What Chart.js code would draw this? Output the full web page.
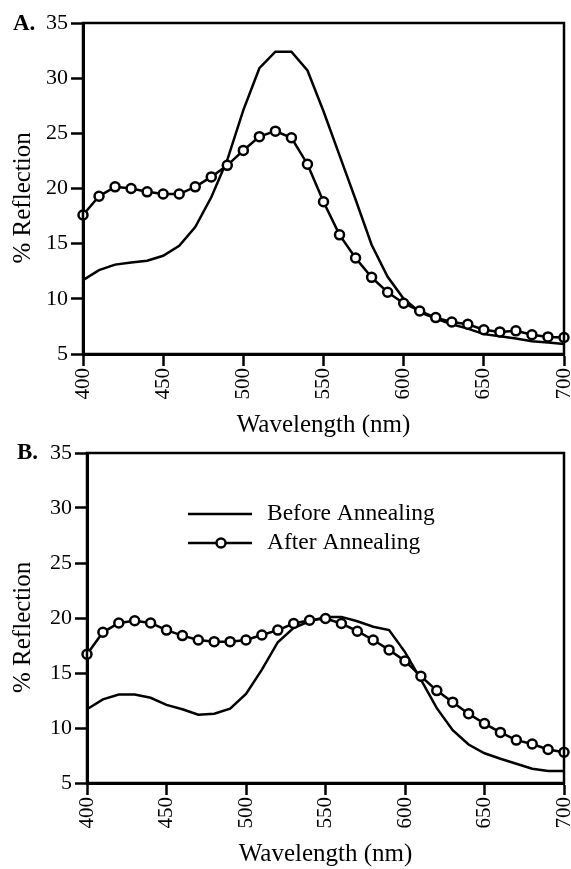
<!DOCTYPE html>
<html>
<head>
<meta charset="utf-8">
<script src="https://cdn.jsdelivr.net/npm/chart.js@4.4.1/dist/chart.umd.min.js"></script>
<style>
    body { margin: 0; background: #fff; width: 571px; height: 869px; overflow: hidden; position: relative; }
    canvas { position: absolute; left: 0; }
    #chart-a { top: 0; }
    #chart-b { top: 440px; }
</style>
</head>
<body>
<canvas id="chart-a" width="571" height="440"></canvas>
<canvas id="chart-b" width="571" height="429"></canvas>
<script>
//#region Datos
var wavelengths = [400, 410, 420, 430, 440, 450, 460, 470, 480, 490, 500, 510, 520, 530, 540, 550,
    560, 570, 580, 590, 600, 610, 620, 630, 640, 650, 660, 670, 680, 690, 700];

// Panel A
var beforeA = [11.7, 12.6, 13.1, 13.3, 13.45, 13.9, 14.8, 16.5, 19.2, 22.6, 27.1, 30.9, 32.4, 32.4, 30.7, 27.0,
    23.0, 19.0, 14.9, 12.0, 10.0, 8.8, 8.2, 7.7, 7.3, 6.8, 6.6, 6.4, 6.15, 6.05, 5.9];
var afterA = [17.6, 19.3, 20.15, 20.0, 19.7, 19.5, 19.5, 20.15, 21.05, 22.1, 23.45, 24.7, 25.2, 24.6, 22.2, 18.8,
    15.8, 13.7, 11.95, 10.6, 9.6, 8.9, 8.3, 7.9, 7.7, 7.2, 7.0, 7.1, 6.75, 6.55, 6.5];

// Panel B
var beforeB = [11.7, 12.6, 13.05, 13.05, 12.75, 12.1, 11.7, 11.2, 11.3, 11.75, 13.1, 15.3, 17.8, 19.1, 19.7, 20.1,
    20.1, 19.7, 19.2, 18.9, 16.9, 14.4, 11.8, 9.8, 8.5, 7.7, 7.2, 6.75, 6.3, 6.1, 6.1];
var afterB = [16.7, 18.7, 19.55, 19.75, 19.55, 18.9, 18.4, 18.0, 17.85, 17.85, 18.0, 18.45, 18.9, 19.5, 19.8, 19.95,
    19.5, 18.8, 18.0, 17.1, 16.1, 14.7, 13.4, 12.35, 11.3, 10.4, 9.6, 8.9, 8.55, 8.05, 7.8];

var xTicks = [400, 450, 500, 550, 600, 650, 700];
var yTicks = [5, 10, 15, 20, 25, 30, 35];
var seriesNames = ['Before Annealing', 'After Annealing'];
//#endregion

var serif = '"Liberation Serif", "Times New Roman", serif';

function toPoints(values) {
    return wavelengths.map(function (w, i) { return { x: w, y: values[i] }; });
}

// caja completa alrededor del area del grafico
var framePlugin = {
    id: 'frame',
    afterDatasetsDraw: function (chart) {
        var a = chart.chartArea, ctx = chart.ctx;
        ctx.save();
        ctx.strokeStyle = '#000';
        ctx.lineWidth = 2.5;
        ctx.strokeRect(a.left, a.top, a.right - a.left, a.bottom - a.top);
        ctx.restore();
    }
};

function panelLabel(text, x, y) {
    return {
        id: 'panelLabel',
        afterDraw: function (chart) {
            var ctx = chart.ctx;
            ctx.save();
            ctx.fillStyle = '#000';
            ctx.font = 'bold 23px ' + serif;
            ctx.textAlign = 'left';
            ctx.textBaseline = 'alphabetic';
            ctx.fillText(text, x, y);
            ctx.restore();
        }
    };
}

var legendPlugin = {
    id: 'customLegend',
    afterDraw: function (chart) {
        var ctx = chart.ctx;
        ctx.save();
        ctx.strokeStyle = '#000';
        ctx.fillStyle = '#000';
        ctx.lineWidth = 2.5;
        ctx.beginPath();
        ctx.moveTo(188, 74);
        ctx.lineTo(252, 74);
        ctx.stroke();
        ctx.beginPath();
        ctx.moveTo(188, 103);
        ctx.lineTo(252, 103);
        ctx.stroke();
        ctx.beginPath();
        ctx.arc(221, 103, 4.5, 0, Math.PI * 2);
        ctx.fillStyle = '#fff';
        ctx.fill();
        ctx.stroke();
        ctx.fillStyle = '#000';
        ctx.font = '23.5px ' + serif;
        ctx.textBaseline = 'alphabetic';
        ctx.fillText(seriesNames[0], 267, 80);
        ctx.fillText(seriesNames[1], 267, 109);
        ctx.restore();
    }
};

function makeChart(canvasId, before, after, opts) {
    var ctx = document.getElementById(canvasId).getContext('2d');
    return new Chart(ctx, {
        type: 'line',
        data: {
            datasets: [{
                label: seriesNames[1],
                data: toPoints(after),
                borderColor: '#000',
                borderWidth: 2.5,
                pointRadius: 4.5,
                pointBorderWidth: 2.5,
                pointBackgroundColor: '#fff',
                pointBorderColor: '#000',
                tension: 0,
                clip: false
            }, {
                label: seriesNames[0],
                data: toPoints(before),
                borderColor: '#000',
                borderWidth: 2.5,
                pointRadius: 0,
                tension: 0,
                clip: false
            }]
        },
        options: {
            responsive: false,
            animation: false,
            devicePixelRatio: 1,
            layout: { padding: opts.padding },
            plugins: { legend: { display: false }, tooltip: { enabled: false } },
            scales: {
                x: {
                    type: 'linear',
                    min: 400,
                    max: 700,
                    afterBuildTicks: function (s) { s.ticks = xTicks.map(function (v) { return { value: v }; }); },
                    afterFit: function (s) { s.height = 86; s.paddingLeft = 0; s.paddingRight = 0; },
                    border: { display: true, color: '#000', width: 3 },
                    grid: { drawOnChartArea: false, drawTicks: true, tickLength: 12, tickWidth: 2.5, tickColor: '#000' },
                    ticks: { color: '#000', font: { family: serif, size: 21 }, minRotation: 90, maxRotation: 90, padding: 2, autoSkip: false },
                    title: { display: true, text: 'Wavelength (nm)', color: '#000', font: { family: serif, size: 25, lineHeight: 1 }, padding: { top: 0, bottom: 2 } }
                },
                y: {
                    min: 5,
                    max: 35,
                    afterBuildTicks: function (s) { s.ticks = yTicks.map(function (v) { return { value: v }; }); },
                    afterFit: function (s) { s.width = opts.yWidth; s.paddingTop = 0; s.paddingBottom = 0; },
                    border: { display: true, color: '#000', width: 3 },
                    grid: { drawOnChartArea: false, drawTicks: true, tickLength: 12, tickWidth: 2.5, tickColor: '#000' },
                    ticks: { color: '#000', font: { family: serif, size: 22 }, padding: 3 },
                    title: { display: true, text: '% Reflection   ', color: '#000', font: { family: serif, size: 25, lineHeight: 1 }, padding: { top: 11, bottom: 0 } }
                }
            }
        },
        plugins: opts.plugins
    });
}

var chartA = makeChart('chart-a', beforeA, afterA, {
    padding: { top: 23, right: 6, left: 0, bottom: 0 },
    yWidth: 83,
    plugins: [framePlugin, panelLabel('A.', 13, 30)]
});

var chartB = makeChart('chart-b', beforeB, afterB, {
    padding: { top: 13, right: 4, left: 0, bottom: 0 },
    yWidth: 87,
    plugins: [framePlugin, panelLabel('B.', 17, 19), legendPlugin]
});
</script>
</body>
</html>
